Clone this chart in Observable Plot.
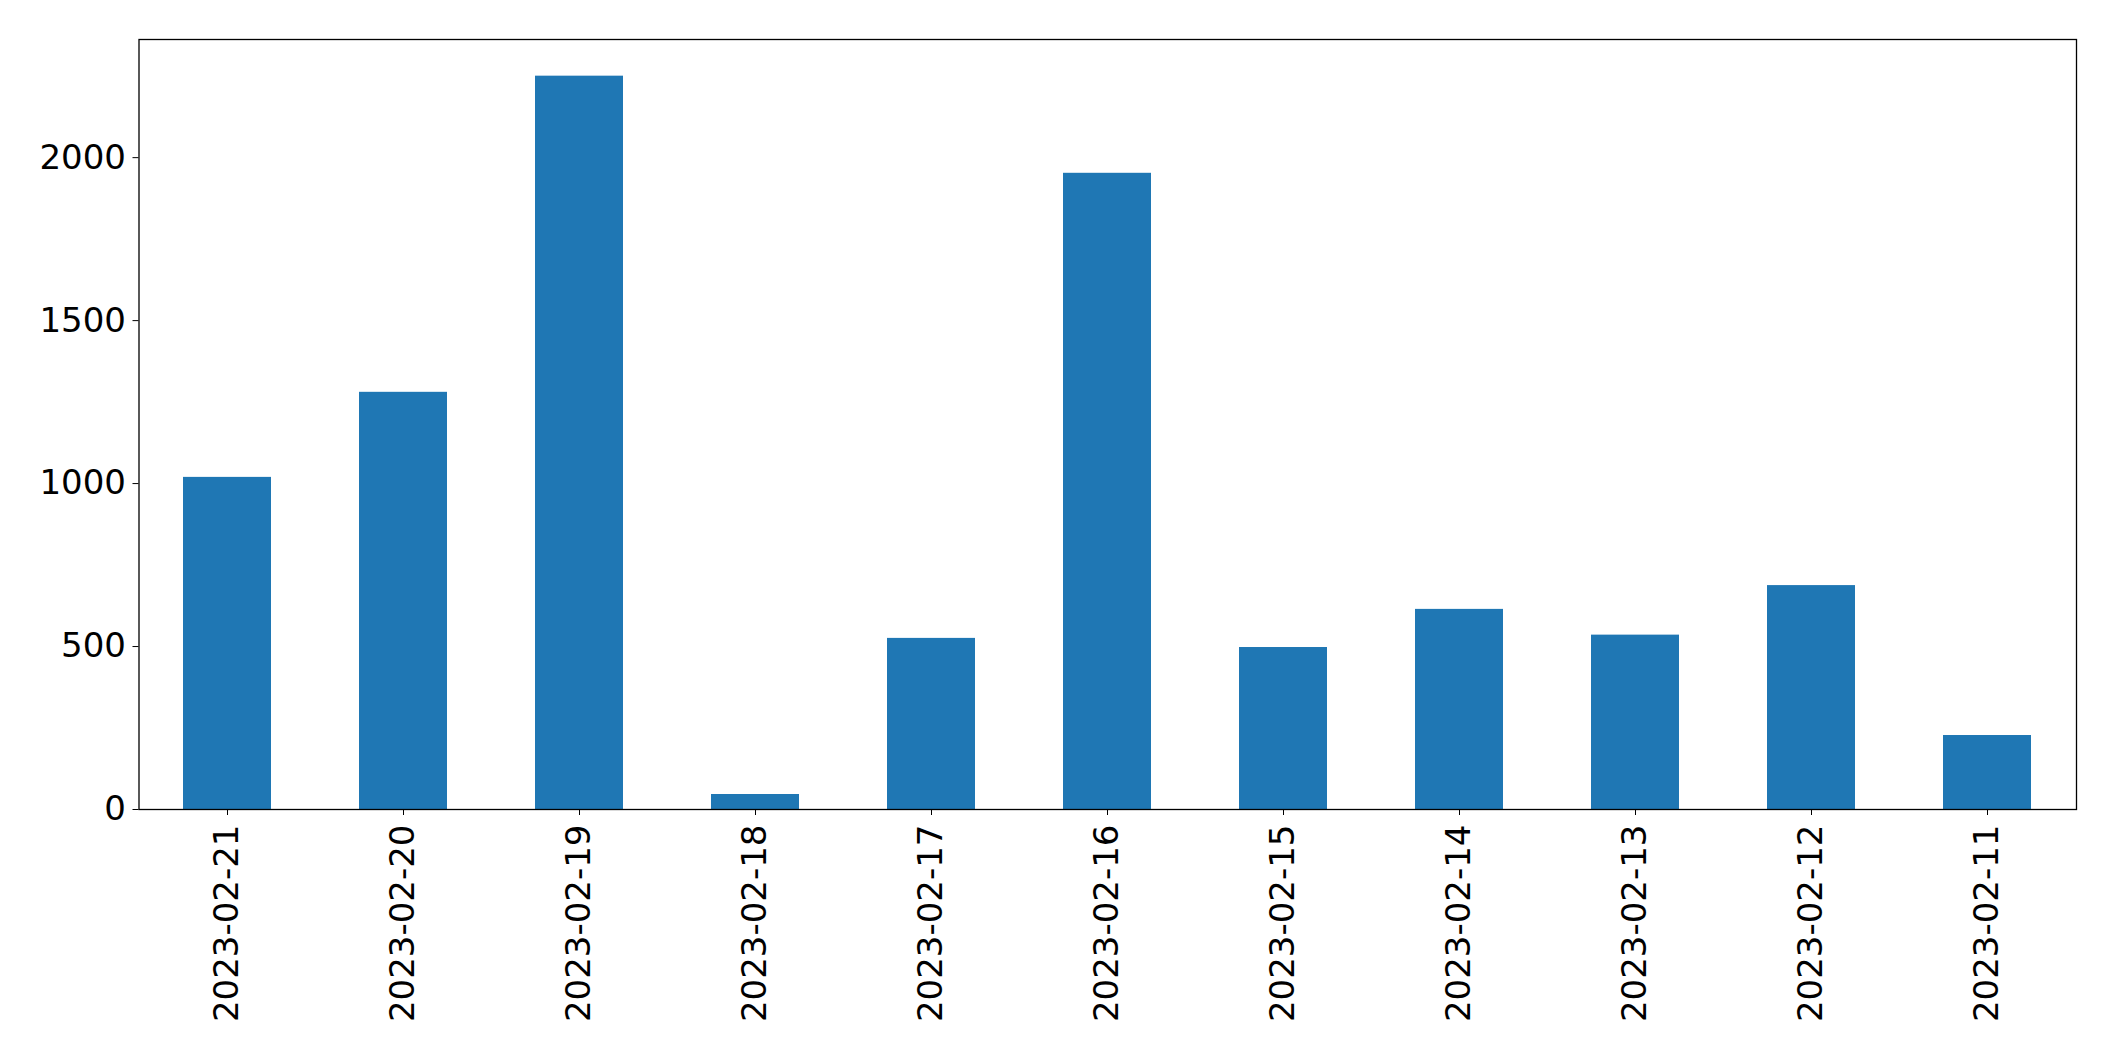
<!DOCTYPE html>
<html>
<head>
<meta charset="utf-8">
<script src="https://cdn.jsdelivr.net/npm/d3@7"></script>
<script src="https://cdn.jsdelivr.net/npm/@observablehq/plot@0.6"></script>
<style>
  html, body { margin: 0; padding: 0; background: white; }
</style>
</head>
<body>
<div id="chart"></div>
<script>
const dates = ["2023-02-21","2023-02-20","2023-02-19","2023-02-18","2023-02-17","2023-02-16","2023-02-15","2023-02-14","2023-02-13","2023-02-12","2023-02-11"];
const counts = [1019, 1280, 2250, 46, 525, 1952, 497, 614, 535, 687, 227];
const yTicks = [0, 500, 1000, 1500, 2000];

const data = dates.map((d, i) => ({date: d, value: counts[i]}));

const chart = Plot.plot({
  width: 2115,
  height: 1061,
  marginLeft: 138.5,
  marginRight: 39,
  marginTop: 39,
  marginBottom: 252,
  style: {fontFamily: "DejaVu Sans", fontSize: "34px", background: "white", color: "black", overflow: "visible"},
  x: {domain: dates, paddingInner: 0.5, paddingOuter: 0.25, label: null, tickRotate: -90, tickSize: 6, tickPadding: 9},
  y: {domain: [0, 2362.5], ticks: yTicks, label: null, tickSize: 6, tickPadding: 7, tickFormat: d => String(d)},
  marks: [
    Plot.barY(data, {x: "date", y: "value", fill: "#1f77b4"}),
    Plot.frame({stroke: "black", strokeWidth: 1.3})
  ]
});
document.getElementById("chart").appendChild(chart);
</script>
</body>
</html>
